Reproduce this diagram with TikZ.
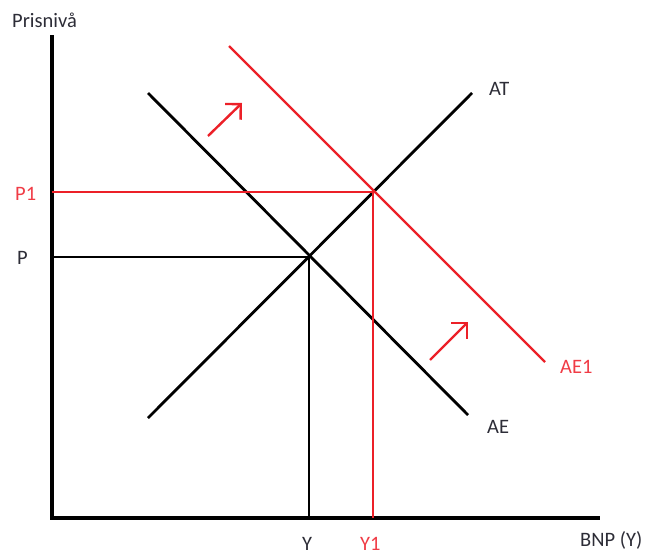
\documentclass[tikz,border=0pt]{standalone}
\usepackage{fontspec}
\setmainfont{Carlito}
\usetikzlibrary{arrows.meta}
\definecolor{cred}{RGB}{236,32,40}
\definecolor{tred}{RGB}{240,60,70}
\definecolor{tblk}{RGB}{45,45,55}
\begin{document}
\begin{tikzpicture}[x=1pt,y=-1pt,
  axis/.style={line width=3.4pt,black},
  curve/.style={line width=2.8pt,black},
  rcurve/.style={line width=2.2pt,cred},
  guide/.style={line width=2.2pt,black},
  rguide/.style={line width=1.8pt,cred},
  shiftarrow/.style={line width=2.4pt,cred,-{Straight Barb[length=11pt,width=22pt,line width=2.4pt]}},
  lbl/.style={font=\fontsize{20.5}{24}\selectfont,text=tblk,inner sep=0pt,anchor=base west},
  rlbl/.style={font=\fontsize{20.5}{24}\selectfont,text=tred,inner sep=0pt,anchor=base west}]
\useasboundingbox (0,0) rectangle (660,554);
% axes
\coordinate (O) at (52,518);
\coordinate (ytop) at (52,35);
\coordinate (xend) at (600,518);
\draw[axis] (ytop) -- (O) -- (xend);
% curves
\coordinate (at1) at (148,418); \coordinate (at2) at (472,93);
\coordinate (ae1) at (148,93); \coordinate (ae2) at (468,415);
\coordinate (aep1) at (229,46); \coordinate (aep2) at (545,362);
\draw[curve] (at1) -- (at2);
\draw[curve] (ae1) -- (ae2);
\draw[rcurve] (aep1) -- (aep2);
% equilibria
\coordinate (E) at (309,257);
\coordinate (E1) at (373,192);
\coordinate (Py) at (52,257); \coordinate (Yx) at (309,518);
\coordinate (P1y) at (52,192); \coordinate (Y1x) at (373,518);
\draw[guide] (Py) -- (E) -- (Yx);
\draw[rguide] (P1y) -- (E1) -- (Y1x);
% shift arrows
\coordinate (s1a) at (208,136); \coordinate (s1b) at (242,103);
\coordinate (s2a) at (430,360); \coordinate (s2b) at (468,322);
\draw[shiftarrow] (s1a) -- (s1b);
\draw[shiftarrow] (s2a) -- (s2b);
% labels
\node[lbl] (lpris) at (12,27) {Prisnivå};
\node[rlbl] (lP1) at (15,200) {P1};
\node[lbl] (lP) at (17,264) {P};
\node[lbl] (lY) at (302,550) {Y};
\node[rlbl] (lY1) at (360,550) {Y1};
\node[lbl] (lbnp) at (580,546) {BNP (Y)};
\node[lbl] (lAT) at (489,95) {AT};
\node[lbl] (lAE) at (487,433) {AE};
\node[rlbl] (lAE1) at (560,373) {AE1};
\end{tikzpicture}
\end{document}
